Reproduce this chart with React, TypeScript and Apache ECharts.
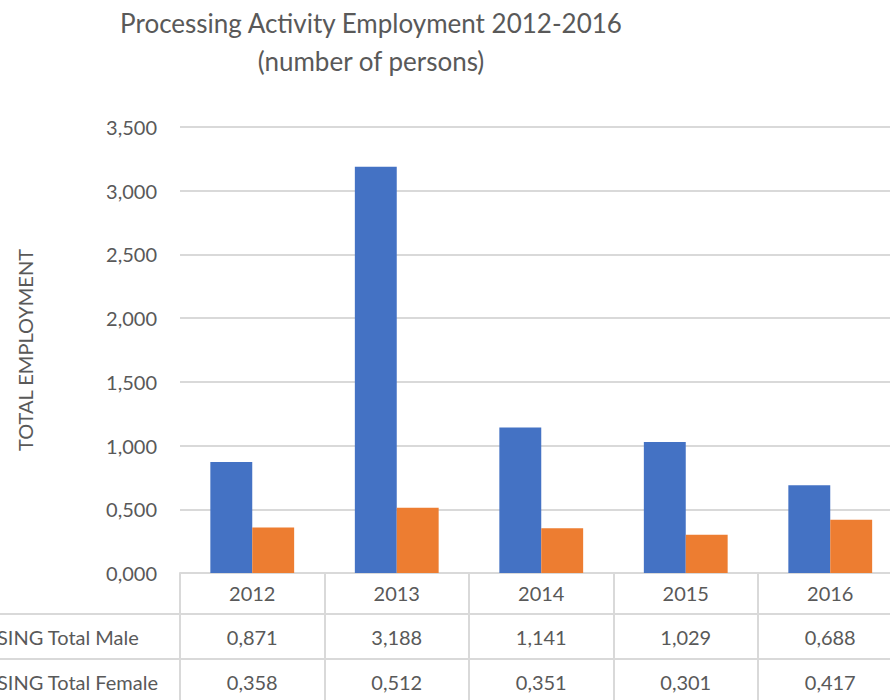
import React, { useEffect, useRef } from "react";
import * as echarts from "echarts";

const years = ["2012", "2013", "2014", "2015", "2016"];
const maleValues = [871, 3188, 1141, 1029, 688];
const femaleValues = [358, 512, 351, 301, 417];
const seriesNames = ["PROCESSING Total Male", "PROCESSING Total Female"];
const titleLines = ["Processing Activity Employment 2012-2016", "(number of persons)"];
const yAxisTitle = "TOTAL EMPLOYMENT";

const FONT = "Lato, 'Noto Sans', sans-serif";
const GRAY = "#595959";
const LINE = "#d9d9d9";

function fmt(v: number): string {
  const s = String(Math.round(v)).padStart(4, "0");
  return s.slice(0, s.length - 3) + "," + s.slice(-3);
}

function measure(text: string, font: string): number {
  const c = document.createElement("canvas").getContext("2d");
  if (!c) return 0;
  c.font = font;
  return c.measureText(text).width;
}

export default function App() {
  const ref = useRef<HTMLDivElement>(null);
  useEffect(() => {
    if (!ref.current) return;
    const chart = echarts.init(ref.current, undefined, { renderer: "svg" });
    const labelSize = 20;
    const hidden = measure("PROCES", `${labelSize}px Lato`);
    const rowCenters = [637, 682];
    const option: any = {
      animation: false,
      backgroundColor: "#ffffff",
      title: {
        text: titleLines.join("\n"),
        left: 366,
        top: -1,
        textAlign: "center",
        textStyle: {
          fontFamily: FONT,
          fontSize: 26,
          fontWeight: "normal",
          color: GRAY,
          lineHeight: 38,
        },
      },
      grid: { left: 180, top: 127, width: 722.5, height: 446 },
      xAxis: [
        {
          type: "category",
          data: years,
          position: "bottom",
          axisLine: { show: true, onZero: false, lineStyle: { color: LINE, width: 2 } },
          axisTick: { show: true, interval: 0, length: 135, lineStyle: { color: LINE, width: 2 } },
          axisLabel: { interval: 0, margin: 10, fontFamily: FONT, fontSize: labelSize, color: GRAY },
        },
        {
          type: "category",
          data: years,
          position: "bottom",
          offset: 44,
          axisLine: { show: false, onZero: false },
          axisTick: { show: false },
          axisLabel: {
            interval: 0,
            margin: 10,
            fontFamily: FONT,
            fontSize: labelSize,
            color: GRAY,
            formatter: (_v: string, i: number) => fmt(maleValues[i]),
          },
        },
        {
          type: "category",
          data: years,
          position: "bottom",
          offset: 89,
          axisLine: { show: false, onZero: false },
          axisTick: { show: false },
          axisLabel: {
            interval: 0,
            margin: 10,
            fontFamily: FONT,
            fontSize: labelSize,
            color: GRAY,
            formatter: (_v: string, i: number) => fmt(femaleValues[i]),
          },
        },
      ],
      yAxis: {
        type: "value",
        min: 0,
        max: 3500,
        interval: 500,
        name: yAxisTitle,
        nameLocation: "middle",
        nameRotate: 90,
        nameGap: 145,
        nameTextStyle: { fontFamily: FONT, fontSize: 20, color: GRAY },
        axisLine: { show: false },
        axisTick: { show: false },
        splitLine: { lineStyle: { color: LINE, width: 2 } },
        axisLabel: { margin: 23, fontFamily: FONT, fontSize: labelSize, color: GRAY, formatter: (v: number) => fmt(v) },
      },
      series: [
        {
          name: seriesNames[0],
          type: "bar",
          data: maleValues,
          barWidth: "29%",
          barGap: "0%",
          itemStyle: { color: "#4472C4" },
        },
        {
          name: seriesNames[1],
          type: "bar",
          data: femaleValues,
          barWidth: "29%",
          barGap: "0%",
          itemStyle: { color: "#ED7D31" },
        },
      ],
      graphic: [
        { type: "line", shape: { x1: 0, y1: 614, x2: 920, y2: 614 }, style: { stroke: LINE, lineWidth: 2 } },
        { type: "line", shape: { x1: 0, y1: 659, x2: 920, y2: 659 }, style: { stroke: LINE, lineWidth: 2 } },
        ...seriesNames.map((n, i) => ({
          type: "text",
          x: -hidden - 3,
          y: rowCenters[i],
          style: {
            text: n,
            fontFamily: FONT,
            fontSize: labelSize,
            fill: GRAY,
            textAlign: "left",
            textVerticalAlign: "middle",
          },
        })),
      ],
    };
    chart.setOption(option);
    return () => chart.dispose();
  }, []);
  return (
    <div style={{ position: "fixed", left: 0, top: 0, width: 890, height: 700, overflow: "hidden", background: "#fff" }}>
      <div ref={ref} style={{ width: 920, height: 700 }} />
    </div>
  );
}
